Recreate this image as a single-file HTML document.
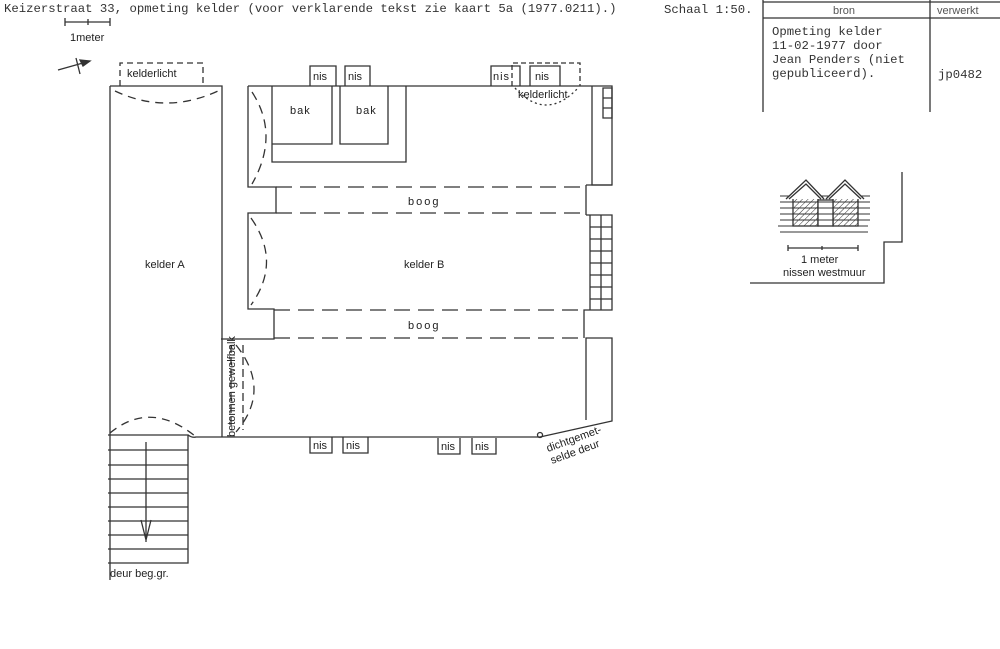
<!DOCTYPE html>
<html><head><meta charset="utf-8"><style>
html,body{margin:0;padding:0;background:#fff;}
svg{display:block}
.m{font-family:"Liberation Mono",monospace;font-size:12.3px;fill:#333}
.s{font-family:"Liberation Sans",sans-serif;font-size:11px;fill:#222}
</style></head><body>
<svg width="1000" height="649" viewBox="0 0 1000 649" xmlns="http://www.w3.org/2000/svg">
<defs>
<pattern id="h" width="4" height="4" patternUnits="userSpaceOnUse" patternTransform="rotate(45)">
<line x1="0" y1="0" x2="0" y2="4" stroke="#333" stroke-width="1"/>
</pattern>
</defs>
<g stroke="#333" stroke-width="1.3" fill="none">
<!-- scale -->
<path d="M65 22H110M65 18V26M88 19V25M110 18V26"/>
<path d="M58 70L90 61M76 58L80 74"/>
<path d="M90 61L80 60L83 66Z" fill="#333"/>
<!-- kelder A -->
<path d="M110 86H222V437M110 86V580"/>
<path d="M120 86V63H203V86" stroke-dasharray="6 4"/>
<path d="M115 91Q166 115 218 91" stroke-dasharray="8 6"/>
<!-- stairs -->
<path d="M108 435H188V563H108"/>
<path d="M108 450H188M108 465H188M108 479H188M108 493H188M108 507H188M108 521H188M108 535H188M108 549H188"/>
<path d="M146 442V542M141 520L146 540L151 520"/>
<path d="M110 433Q150 400 195 436" stroke-dasharray="8 6"/>
<path d="M188 435Q192 438 196 437H540L612 421V338H586V420"/>
<!-- kelder B top -->
<path d="M248 86H612V185H592V86M248 86V187H276V213H248V309H274V339H221"/>
<path d="M272 86V144H332V86M340 86V144H388V86M272 144V162H406V86"/>
<path d="M603 88H612V118H603ZM603 98H612M603 108H612"/>
<path d="M586 185V215M592 185H612M586 185H592M586 215H612V310H584V338"/>
<path d="M590 215V310M601 215V310M590 227H612M590 239H612M590 251H612M590 263H612M590 275H612M590 287H612M590 299H612"/>
<path d="M276 187H586M276 213H586M274 310H584M274 338H584" stroke-dasharray="16 8"/>
<path d="M252 92Q280 135 252 184M251 218Q282 262 251 305M236 345Q272 390 236 432" stroke-dasharray="9 6"/>
<path d="M231 345V430M243 345V430" stroke-dasharray="8 4"/>
<!-- nis top -->
<path d="M310 86V66H336V86M345 86V66H370V86M491 86V66H520V86M530 86V66H560V86"/>
<path d="M512 86V63H580V86" stroke-dasharray="5 3"/>
<path d="M515 88Q546 122 578 88" stroke-dasharray="2 3"/>
<!-- nis bottom -->
<path d="M310 437V453H332V437M343 437V453H368V437M438 438V454H460V438M472 438V454H496V438"/>
<circle cx="540" cy="435" r="2.5"/>
<!-- table -->
<path d="M763 0V112M930 0V112M763 2H1000M763 18H1000"/>
<!-- inset -->
<path d="M902 172V242H884V283H750"/>
<path d="M788 248H858M788 245V251M822 246V250M858 245V251"/>
<path d="M780 196H870M780 202H870M780 208H870M780 214H870M780 220H870M778 226H868M780 232H868" stroke-width="1"/>
<rect x="793" y="194" width="25" height="32" fill="url(#h)" stroke="#333" style="fill:url(#h)"/>
<rect x="833" y="194" width="25" height="32" stroke="#333" style="fill:url(#h)"/>
<rect x="818" y="200" width="15" height="26" fill="#fff"/>
<path d="M818 202H833M818 208H833M818 214H833M818 220H833" stroke-width="1"/>
<path d="M786 199L806 180L824 199M789 199L806 184L821 199M826 199L845 180L864 199M829 199L845 184L861 199" fill="#fff"/>
</g>
<text x="4" y="12" class="m">Keizerstraat 33, opmeting kelder (voor verklarende tekst zie kaart 5a (1977.0211).)</text>
<text x="664" y="13" class="m">Schaal 1:50.</text>
<text x="70" y="41" class="s">1meter</text>
<text x="127" y="77" class="s">kelderlicht</text>
<text x="290" y="114" class="s" style="letter-spacing:1px">bak</text>
<text x="356" y="114" class="s" style="letter-spacing:1px">bak</text>
<text x="313" y="80" class="s">nis</text><text x="348" y="80" class="s">nis</text>
<text x="493" y="80" class="s" style="letter-spacing:1px">nis</text><text x="535" y="80" class="s">nis</text>
<text x="518" y="98" class="s">kelderlicht</text>
<text x="408" y="205" class="s" style="letter-spacing:2px">boog</text>
<text x="408" y="329" class="s" style="letter-spacing:2px">boog</text>
<text x="145" y="268" class="s">kelder A</text>
<text x="404" y="268" class="s">kelder B</text>
<text x="313" y="449" class="s">nis</text><text x="346" y="449" class="s">nis</text>
<text x="441" y="450" class="s">nis</text><text x="475" y="450" class="s">nis</text>
<text x="110" y="577" class="s">deur beg.gr.</text>
<text transform="translate(235,437) rotate(-90)" class="s">betonnen gewelfbalk</text>
<text transform="translate(548,452) rotate(-20)" class="s">dichtgemet-</text>
<text transform="translate(552,464) rotate(-20)" class="s">selde deur</text>
<text x="833" y="14" class="s" style="fill:#555">bron</text>
<text x="937" y="14" class="s" style="fill:#555">verwerkt</text>
<text x="772" y="35" class="m">Opmeting kelder</text>
<text x="772" y="49" class="m">11-02-1977 door</text>
<text x="772" y="63" class="m">Jean Penders (niet</text>
<text x="772" y="77" class="m">gepubliceerd).</text>
<text x="938" y="78" class="m">jp0482</text>
<text x="801" y="263" class="s">1 meter</text>
<text x="783" y="276" class="s">nissen westmuur</text>
</svg>
</body></html>
